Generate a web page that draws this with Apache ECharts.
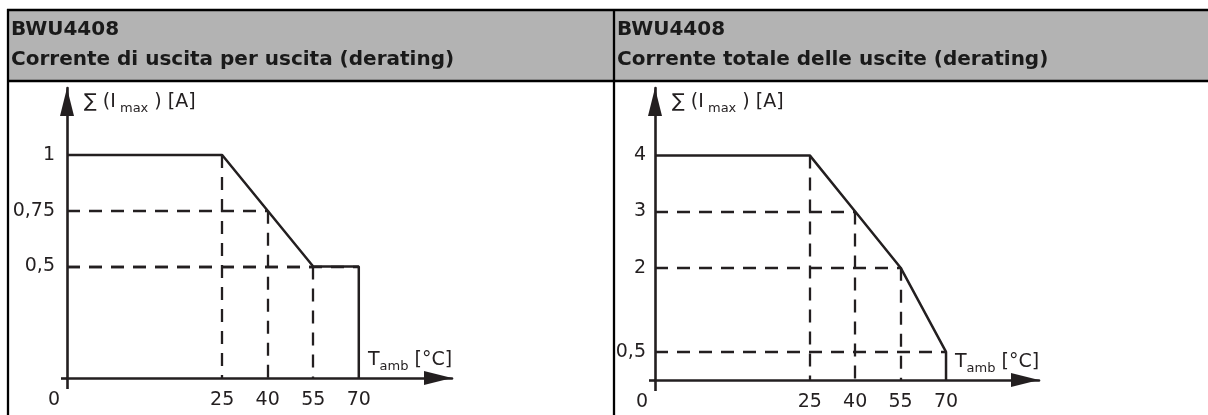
<!DOCTYPE html>
<html><head><meta charset="utf-8">
<script src="https://cdn.jsdelivr.net/npm/echarts@6/dist/echarts.min.js"></script>
<style>html,body{margin:0;padding:0;background:#fff}#c{width:1208px;height:415px}</style>
</head><body><div id="c"></div>
<script>
// ---- data ----
const panelTitles = [
  'BWU4408\nCorrente di uscita per uscita (derating)',
  'BWU4408\nCorrente totale delle uscite (derating)'
];
const tempC = [0, 25, 40, 55, 70];                 // T_amb [°C]
const currentPerOutput = [1, 1, 0.75, 0.5, 0.5];   // A
const currentTotal = [4, 4, 3, 2, 0.5];            // A
const xTickLabels = [0, 25, 40, 55, 70];
const yTicksPerOutput = [0.5, 0.75, 1];
const yTicksTotal = [0.5, 2, 3, 4];
const yAxisName = '{m|\u2211 (I}{s| max}{m| ) [A]}';
const xAxisName = '{m|T}{s|amb}{m| [\u00B0C]}';

// ---- style ----
const INK = '#231f20';
const FONT = 'DejaVu Sans';

function curve(vals) {
  const pts = tempC.map((t, i) => [t, vals[i]]);
  pts.push([tempC[tempC.length - 1], 0]);
  return pts;
}
function guides(vals) {
  const segs = [];
  const n = tempC.length;
  for (let i = 1; i <= n - 2; i++) segs.push([[tempC[i], vals[i]], [tempC[i], 0]]);
  for (let i = 2; i <= n - 1; i++) segs.push([[0, vals[i]], [tempC[i], vals[i]]]);
  return segs.map(s => [{coord: s[0]}, {coord: s[1]}]);
}

const grids = [
  {left: 67, top: 88, width: 385, height: 290},
  {left: 655, top: 88, width: 384, height: 292}
];

function xAxis(gi) {
  return {
    type: 'value', gridIndex: gi, min: 0, max: 100.7,
    breaks: [{start: 1, end: 24, gap: 49.1}],
    breakArea: {show: false},
    splitLine: {show: false},
    axisLine: {show: true, breakLine: false, symbol: ['none', 'triangle'], symbolSize: [14, 28], symbolOffset: [0, -14],
      lineStyle: {color: INK, width: 2.6}},
    axisTick: {show: true, customValues: [0], length: 11, lineStyle: {color: INK, width: 2.6}},
    axisLabel: {show: true, customValues: xTickLabels, margin: 13, color: INK, fontFamily: FONT, fontSize: 19,
      formatter: v => v === 0 ? '{o|0}' : String(v),
      rich: {o: {fontFamily: FONT, fontSize: 19, color: INK, padding: [0, 26, 0, 0]}}},
    name: xAxisName, nameLocation: 'end', nameGap: -84, nameMoveOverlap: false,
    nameTextStyle: {align: 'left', verticalAlign: 'bottom', padding: [0, 0, 5, 0],
      rich: {
        m: {fontFamily: FONT, fontSize: 19, color: INK, lineHeight: 22, verticalAlign: 'top'},
        s: {fontFamily: FONT, fontSize: 13, color: INK, lineHeight: 14, padding: [13, 0, 0, 0], verticalAlign: 'bottom'}
      }}
  };
}
function yAxis(gi, max, ticks, labelMargin) {
  return {
    type: 'value', gridIndex: gi, min: 0, max: max,
    splitLine: {show: false},
    axisLine: {show: true, symbol: ['none', 'triangle'], symbolSize: [14, 28], symbolOffset: [0, -14],
      lineStyle: {color: INK, width: 2.6}},
    axisTick: {show: true, customValues: [0], length: 6, lineStyle: {color: INK, width: 2.6}},
    axisLabel: {show: true, customValues: ticks, margin: labelMargin, color: INK, fontFamily: FONT, fontSize: 19,
      formatter: v => String(v).replace('.', ',')},
    name: yAxisName, nameLocation: 'end', nameGap: 0, nameMoveOverlap: false,
    nameTextStyle: {align: 'left', verticalAlign: 'top', padding: [5, 0, 0, 17],
      rich: {
        m: {fontFamily: FONT, fontSize: 19, color: INK, lineHeight: 22, verticalAlign: 'top'},
        s: {fontFamily: FONT, fontSize: 13, color: INK, lineHeight: 14, padding: [16, 0, 0, 0], verticalAlign: 'bottom'}
      }}
  };
}
function series(gi, vals) {
  return [
    {type: 'line', xAxisIndex: gi, yAxisIndex: gi, data: [], silent: true, z: 2,
      markLine: {silent: true, symbol: ['none', 'none'], label: {show: false}, animation: false,
        lineStyle: {color: INK, width: 2.3, type: [13, 9]}, emphasis: {disabled: true},
        data: guides(vals)}},
    {type: 'line', xAxisIndex: gi, yAxisIndex: gi, data: curve(vals), symbol: 'none', silent: true, z: 5,
      lineStyle: {color: INK, width: 2.5}}
  ];
}

const titleStyle = {fontFamily: FONT, fontWeight: 'bold', fontSize: 20, lineHeight: 30, color: '#1a1a1a'};
const frameLine = {stroke: '#000', lineWidth: 2.3};

const chart = echarts.init(document.getElementById('c'), null, {renderer: 'canvas'});
chart.setOption({
  animation: false,
  backgroundColor: '#fff',
  title: [
    {text: panelTitles[0], left: 11, top: 15, padding: 0, textStyle: titleStyle},
    {text: panelTitles[1], left: 617, top: 15, padding: 0, textStyle: titleStyle}
  ],
  graphic: [
    {type: 'rect', shape: {x: 8, y: 10, width: 1200, height: 71}, style: {fill: '#b3b3b3'}, z: -10, silent: true},
    {type: 'line', shape: {x1: 7, y1: 10, x2: 1208, y2: 10}, style: frameLine, silent: true},
    {type: 'line', shape: {x1: 7, y1: 81, x2: 1208, y2: 81}, style: frameLine, silent: true},
    {type: 'line', shape: {x1: 8, y1: 9, x2: 8, y2: 415}, style: frameLine, silent: true},
    {type: 'line', shape: {x1: 614, y1: 9, x2: 614, y2: 415}, style: frameLine, silent: true}
  ],
  grid: grids.map(g => Object.assign({containLabel: false, outerBoundsMode: 'none'}, g)),
  xAxis: [xAxis(0), xAxis(1)],
  yAxis: [yAxis(0, 1.3, yTicksPerOutput, 12), yAxis(1, 5.2, yTicksTotal, 9)],
  series: [...series(0, currentPerOutput), ...series(1, currentTotal)]
});
</script>
</body></html>
